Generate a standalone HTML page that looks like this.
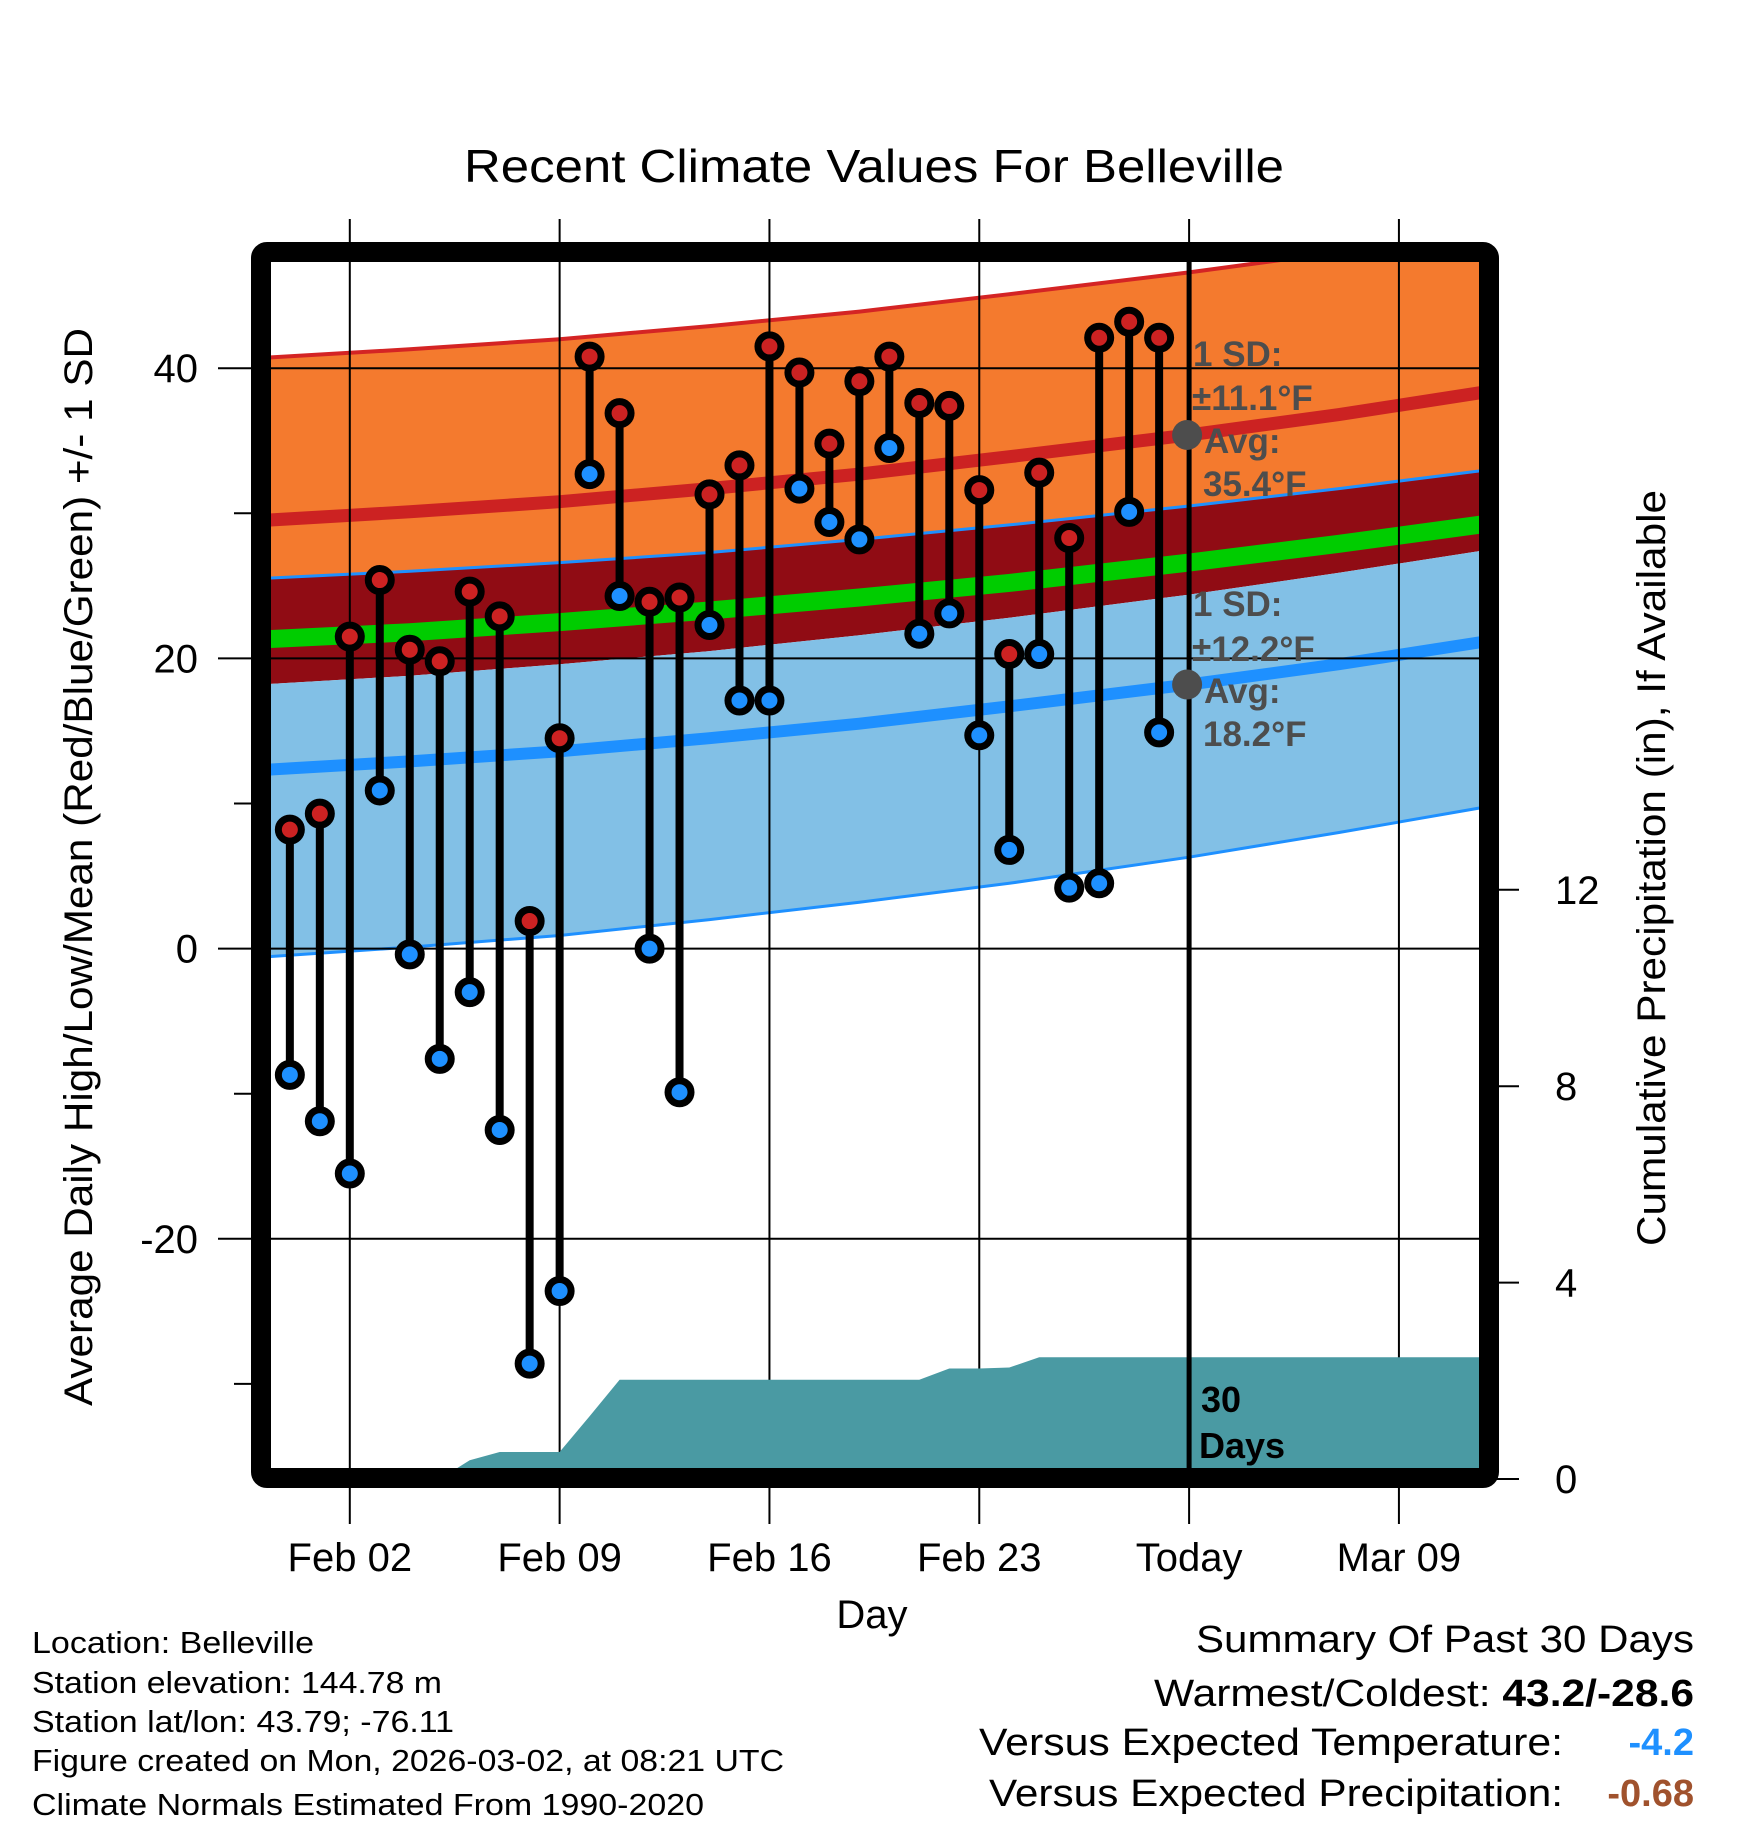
<!DOCTYPE html>
<html><head><meta charset="utf-8"><style>
html,body{margin:0;padding:0;background:#fff}
svg{display:block;font-family:"Liberation Sans",Arial,sans-serif}
</style></head><body>
<svg id="chart" width="1748" height="1828" viewBox="0 0 1748 1828" xmlns="http://www.w3.org/2000/svg">
<defs><clipPath id="plotClip"><rect x="271" y="261" width="1209" height="1208"/></clipPath></defs>
<g id="bands" clip-path="url(#plotClip)"></g>
<g id="grid"></g>
<g id="precip" clip-path="url(#plotClip)"></g>
<g id="marks"></g>
<g id="annot"></g>
<rect x="261" y="252" width="1228" height="1226" rx="6" fill="none" stroke="#000" stroke-width="20"/>
<g id="axes"></g>
<text x="874" y="182" font-size="46" text-anchor="middle" textLength="820" lengthAdjust="spacingAndGlyphs">Recent Climate Values For Belleville</text>
<text x="872" y="1628" font-size="40" text-anchor="middle">Day</text>
<text transform="translate(92,867) rotate(-90)" font-size="40" text-anchor="middle" textLength="1078" lengthAdjust="spacingAndGlyphs">Average Daily High/Low/Mean (Red/Blue/Green) +/- 1 SD</text>
<text transform="translate(1665,868) rotate(-90)" font-size="40" text-anchor="middle" textLength="756" lengthAdjust="spacingAndGlyphs">Cumulative Precipitation (in), If Available</text>
<g font-size="31">
<text x="32" y="1653" textLength="282" lengthAdjust="spacingAndGlyphs">Location: Belleville</text>
<text x="32" y="1693" textLength="410" lengthAdjust="spacingAndGlyphs">Station elevation: 144.78 m</text>
<text x="32" y="1732" textLength="422" lengthAdjust="spacingAndGlyphs">Station lat/lon: 43.79; -76.11</text>
<text x="32" y="1771" textLength="752" lengthAdjust="spacingAndGlyphs">Figure created on Mon, 2026-03-02, at 08:21 UTC</text>
<text x="32" y="1815" textLength="672" lengthAdjust="spacingAndGlyphs">Climate Normals Estimated From 1990-2020</text>
</g>
<g font-size="38">
<text x="1694" y="1652" text-anchor="end" textLength="498" lengthAdjust="spacingAndGlyphs">Summary Of Past 30 Days</text>
<text x="1154" y="1706" textLength="540" lengthAdjust="spacingAndGlyphs">Warmest/Coldest: <tspan font-weight="bold">43.2/-28.6</tspan></text>
<text x="979" y="1755" textLength="584" lengthAdjust="spacingAndGlyphs">Versus Expected Temperature:</text>
<text x="1694" y="1755" text-anchor="end" font-weight="bold" fill="#1e90ff">-4.2</text>
<text x="989" y="1806" textLength="574" lengthAdjust="spacingAndGlyphs">Versus Expected Precipitation:</text>
<text x="1694" y="1806" text-anchor="end" font-weight="bold" fill="#a0522d">-0.68</text>
</g>
</svg>
<script>
// ---- data ----
const dayLabels = ["Jan 31","Feb 01","Feb 02","Feb 03","Feb 04","Feb 05","Feb 06","Feb 07","Feb 08","Feb 09","Feb 10","Feb 11","Feb 12","Feb 13","Feb 14","Feb 15","Feb 16","Feb 17","Feb 18","Feb 19","Feb 20","Feb 21","Feb 22","Feb 23","Feb 24","Feb 25","Feb 26","Feb 27","Feb 28","Mar 01"];
const highs = [8.2,9.3,21.5,25.4,20.6,19.8,24.6,22.9,1.9,14.5,40.8,36.9,23.9,24.2,31.3,33.3,41.5,39.7,34.8,39.1,40.8,37.6,37.4,31.6,20.3,32.8,28.3,42.1,43.2,42.1];
const lows = [-8.7,-11.9,-15.5,10.9,-0.4,-7.6,-3.0,-12.5,-28.6,-23.6,32.7,24.3,0,-9.9,22.3,17.1,17.1,31.7,29.4,28.2,34.5,21.7,23.1,14.7,6.8,20.3,4.2,4.5,30.1,14.9];
const precipCum = [0,0,0,0,0,0,0.38,0.55,0.55,0.55,1.28,2.02,2.02,2.02,2.02,2.02,2.02,2.02,2.02,2.02,2.02,2.02,2.25,2.25,2.27,2.48,2.48,2.48,2.48,2.48];
const normDays = [-3,2,7,12,17,22,28,33,38];
const highPlusSD = [40.7,41.3,42.0,42.9,43.9,45.1,46.6,48.0,49.6];
const highMean = [29.5,30.1,30.8,31.7,32.7,33.9,35.4,36.8,38.4];
const highMinusSD = [25.5,26.0,26.6,27.3,28.2,29.2,30.5,31.7,33.0];
const meanMean = [21.3,21.8,22.5,23.3,24.2,25.2,26.6,27.9,29.3];
const lowPlusSD = [18.2,18.8,19.6,20.5,21.6,22.8,24.4,25.9,27.5];
const lowMean = [12.3,12.9,13.6,14.5,15.5,16.7,18.2,19.6,21.2];
const lowMinusSD = [-0.6,0.1,0.9,2.0,3.2,4.5,6.3,8.0,9.8];
const xTickDays = [0,7,14,21,28,35];
const xTickLabels = ["Feb 02","Feb 09","Feb 16","Feb 23","Today","Mar 09"];
const yTicks = [40,20,0,-20];
const yMinorTicks = [30,10,-10,-30];
const pTicks = [0,4,8,12];
const todayDay = 28;
const firstDay = -2; // Jan 31 relative to Feb 02

// ---- axes ----
const X = d => 349.8 + d*29.975;
const Y = v => 948.6 - v*14.51;
const P = p => 1479 - p*49.1;
const NS = "http://www.w3.org/2000/svg";
function mk(tag, parent, attrs){const e=document.createElementNS(NS,tag);for(const k in attrs)e.setAttribute(k,attrs[k]);parent.appendChild(e);return e;}
const g = id => document.getElementById(id);

function pts(arr, rev){let p=normDays.map((d,i)=>X(d).toFixed(1)+","+Y(arr[i]).toFixed(1));return rev?p.reverse():p;}
function band(top,bot,fill,name){
  const e=mk("polygon",g("bands"),{points:pts(top).concat(pts(bot,true)).join(" "),fill:fill});
  
  
}
function line(arr,color,w,name){
  const e=mk("polyline",g("bands"),{points:pts(arr).join(" "),fill:"none",stroke:color,"stroke-width":w});
  
  
}
band(highPlusSD,highMinusSD,"#f47a2e","high-sd-band");
band(highMinusSD,lowPlusSD,"#900c14","overlap-band");
band(lowPlusSD,lowMinusSD,"#82c0e6","low-sd-band");
line(highPlusSD,"#d42424",4,"high-plus-sd-line");
line(highMinusSD,"#1e90ff",3,"high-minus-sd-line");
line(lowMinusSD,"#1e90ff",3,"low-minus-sd-line");
line(meanMean,"#00cc00",18,"mean-normal-line");
line(highMean,"#cc2222",13,"high-normal-line");
line(lowMean,"#1e90ff",12,"low-normal-line");

yTicks.forEach(v=>{
  const e=mk("line",g("grid"),{x1:218,x2:1480,y1:Y(v),y2:Y(v),stroke:"#000","stroke-width":2});
  
  
  const t=mk("text",g("axes"),{x:198,y:Y(v)+14,"font-size":40,"text-anchor":"end"});t.textContent=v;
  
  
});
yMinorTicks.forEach(v=>{
  const e=mk("line",g("grid"),{x1:234,x2:262,y1:Y(v),y2:Y(v),stroke:"#000","stroke-width":2});
  
  
});
xTickDays.forEach((d,i)=>{
  const e=mk("line",g("grid"),{x1:X(d),x2:X(d),y1:219,y2:1524,stroke:"#000","stroke-width":2});
  
  
  const t=mk("text",g("axes"),{x:X(d),y:1571,"font-size":40,"text-anchor":"middle"});t.textContent=xTickLabels[i];
  
  
});
pTicks.forEach(p=>{
  const e=mk("line",g("axes"),{x1:1494,x2:1519,y1:P(p),y2:P(p),stroke:"#000","stroke-width":2});
  
  
  const t=mk("text",g("axes"),{x:1555,y:P(p)+14,"font-size":40});t.textContent=p;
  
  
});

{
  let pp=[X(-2.8)+","+P(0)];
  precipCum.forEach((p,i)=>pp.push(X(firstDay+i).toFixed(1)+","+P(p).toFixed(1)));
  pp.push(X(38)+","+P(precipCum[precipCum.length-1]).toFixed(1));
  pp.push(X(38)+","+P(0));
  const e=mk("polygon",g("precip"),{points:pp.join(" "),fill:"#4a9aa3"});
  
  
}

{
  const e=mk("line",g("marks"),{x1:X(todayDay),x2:X(todayDay),y1:258,y2:1472,stroke:"#000","stroke-width":5});
  
  
}

highs.forEach((h,i)=>{
  const x=X(firstDay+i);
  const s=mk("line",g("marks"),{x1:x,x2:x,y1:Y(h),y2:Y(lows[i]),stroke:"#000","stroke-width":8});
  
  
});
highs.forEach((h,i)=>{
  const x=X(firstDay+i);
  const c1=mk("circle",g("marks"),{cx:x,cy:Y(h),r:11.5,fill:"#cc2222",stroke:"#000","stroke-width":7});
  
  
  const c2=mk("circle",g("marks"),{cx:x,cy:Y(lows[i]),r:11.5,fill:"#1e90ff",stroke:"#000","stroke-width":7});
  
  
});

{
  const a=g("annot");
  const d1=mk("circle",a,{cx:X(todayDay)-2,cy:Y(35.4),r:15,fill:"#4d4d4d"});
  
  
  const d2=mk("circle",a,{cx:X(todayDay)-2,cy:Y(18.2),r:15,fill:"#4d4d4d"});
  
  
  const labs=[["1 SD:",1193,366],["\u00b111.1\u00b0F",1192,410],["Avg:",1204,453],["35.4\u00b0F",1203,496],
              ["1 SD:",1193,616],["\u00b112.2\u00b0F",1192,661],["Avg:",1204,703],["18.2\u00b0F",1203,746]];
  labs.forEach(l=>{
    const t=mk("text",a,{x:l[1],y:l[2],"font-size":35,"font-weight":"bold",fill:"#4d4d4d"});
    t.textContent=l[0];
    
    
  });
  const t1=mk("text",a,{x:1201,y:1412,"font-size":36,"font-weight":"bold"});t1.textContent="30";
  
  
  const t2=mk("text",a,{x:1199,y:1458,"font-size":36,"font-weight":"bold"});t2.textContent="Days";
  
  
}
</script>
</body></html>
